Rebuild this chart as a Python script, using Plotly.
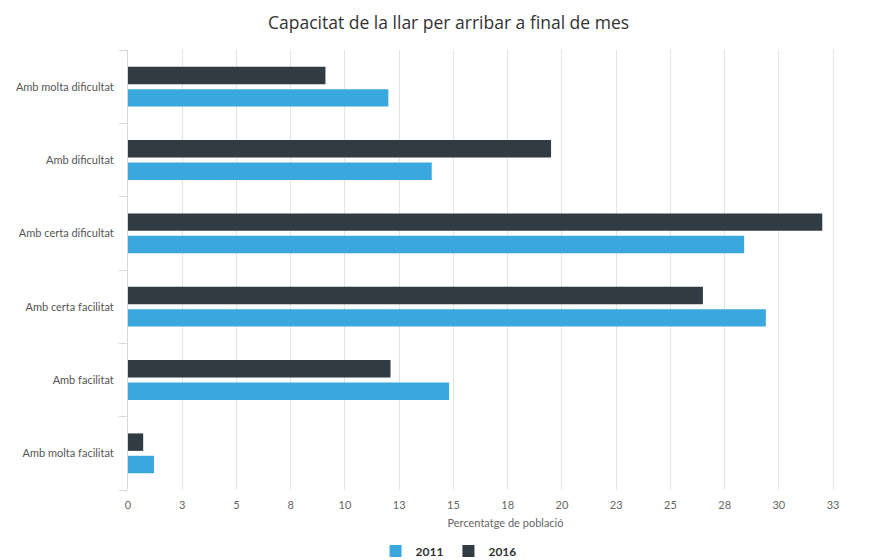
import plotly.graph_objects as go

categories = ["Amb molta dificultat", "Amb dificultat", "Amb certa dificultat",
              "Amb certa facilitat", "Amb facilitat", "Amb molta facilitat"]
values_2011 = [12.0, 14.0, 28.4, 29.4, 14.8, 1.2]
values_2016 = [9.1, 19.5, 32.0, 26.5, 12.1, 0.7]
tick_vals = [0, 2.5, 5, 7.5, 10, 12.5, 15, 17.5, 20, 22.5, 25, 27.5, 30, 32.5, 35]
tick_text = ["0", "3", "5", "8", "10", "13", "15", "18", "20", "23", "25", "28", "30", "33", "35"]

BLUE = "#3aa8df"
DARK = "#303b43"
FONT = "Lato"

fig = go.Figure()
fig.add_trace(go.Bar(name="2011", y=categories, x=values_2011, orientation="h",
                     marker=dict(color=BLUE, line=dict(width=0))))
fig.add_trace(go.Bar(name="2016", y=categories, x=values_2016, orientation="h",
                     marker=dict(color=DARK, line=dict(width=0))))

fig.update_layout(
    width=883, height=560,
    margin=dict(l=128, r=0, t=50, b=70),
    paper_bgcolor="white", plot_bgcolor="white",
    barmode="group", bargap=0.39, bargroupgap=0.22,
    font=dict(family=FONT, color="#555"),
    title=dict(text="Capacitat de la llar per arribar a final de mes",
               xref="container", x=0.508, xanchor="center",
               yref="container", y=0.96, yanchor="middle",
               font=dict(family="Open Sans", size=17.5, color="#333")),
    legend=dict(orientation="h", xref="container", x=0.508, xanchor="center",
                yref="container", y=0.016, yanchor="middle",
                font=dict(family=FONT, size=12, color="#333", weight="bold"),
                itemwidth=30, tracegroupgap=0),
    showlegend=True,
)
fig.update_xaxes(range=[0, 34.8], tickmode="array", tickvals=tick_vals, ticktext=tick_text,
                 showgrid=True, gridcolor="#e3e3e3", gridwidth=1, zeroline=False,
                 showline=False, ticks="", tickfont=dict(size=11, color="#666"),
                 automargin=False, ticklabelstandoff=7,
                 title=dict(text="Percentatge de població", font=dict(size=11, color="#666"),
                            standoff=9))
fig.update_yaxes(categoryorder="array", categoryarray=list(reversed(categories)),
                 showline=True, linecolor="#d8d8d8", linewidth=1,
                 ticks="outside", tickson="boundaries", ticklen=8, tickcolor="#d8d8d8",
                 showgrid=False, tickfont=dict(size=11, color="#555"),
                 ticklabelstandoff=11, automargin=False)

fig.write_html("out.html", config={"displayModeBar": False},
               post_script="document.body.style.margin='0';document.body.style.overflow='hidden';")
